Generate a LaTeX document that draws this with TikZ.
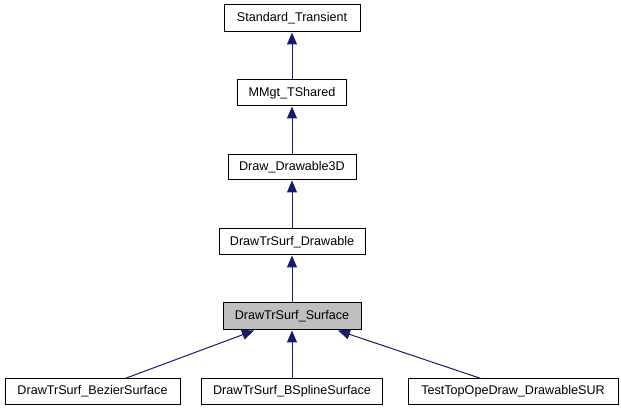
\documentclass[tikz,border=0pt]{standalone}
\usepackage{fontspec}
\setmainfont{Liberation Sans}
\usetikzlibrary{arrows.meta}
\definecolor{edgeblue}{HTML}{191970}
\definecolor{boxgray}{HTML}{BFBFBF}
\begin{document}
\begin{tikzpicture}[x=1pt,y=-1pt,
  cls/.style={draw=black,line width=1pt,fill=white,inner sep=0pt,
    font=\fontsize{12.6}{14}\selectfont},
  inh/.style={draw=edgeblue,line width=1pt,
    -{Triangle[length=12pt,width=10pt,fill=edgeblue]}}]
\useasboundingbox (0,0) rectangle (621,411);
\node[cls,minimum width=136pt,minimum height=27pt] (st) at (292,18.5) {Standard\_Transient};
\node[cls,minimum width=109pt,minimum height=26pt] (mm) at (292,93) {MMgt\_TShared};
\node[cls,minimum width=128pt,minimum height=25pt] (dd) at (292,167.5) {Draw\_Drawable3D};
\node[cls,minimum width=146pt,minimum height=26pt] (td) at (292,242) {DrawTrSurf\_Drawable};
\node[cls,fill=boxgray,minimum width=138pt,minimum height=27pt] (ts) at (292,316.5) {DrawTrSurf\_Surface};
\node[cls,minimum width=175pt,minimum height=25pt] (bz) at (92.5,391.5) {DrawTrSurf\_BezierSurface};
\node[cls,minimum width=181pt,minimum height=25pt] (bs) at (292,391.5) {DrawTrSurf\_BSplineSurface};
\node[cls,minimum width=210pt,minimum height=25pt] (tt) at (513,391.5) {TestTopOpeDraw\_DrawableSUR};
\draw[inh] (mm.north) -- (st.south);
\draw[inh] (dd.north) -- (mm.south);
\draw[inh] (td.north) -- (dd.south);
\draw[inh] (ts.north) -- (td.south);
\draw[inh] (bs.north) -- (ts.south);
\draw[inh] (bz.north -| 125,0) -- (ts.south -| 254,0);
\draw[inh] (tt.north -| 481,0) -- (ts.south -| 338,0);
\end{tikzpicture}
\end{document}
